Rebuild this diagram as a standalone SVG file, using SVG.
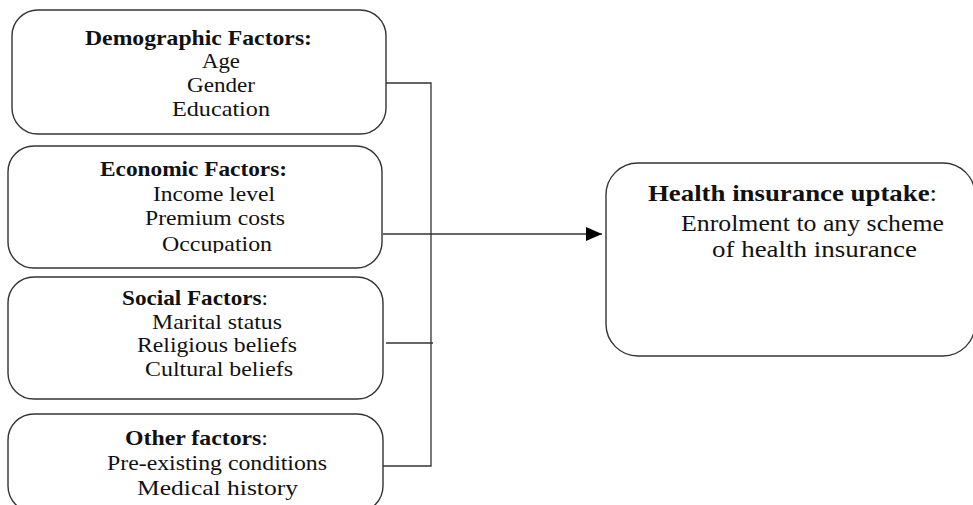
<svg xmlns="http://www.w3.org/2000/svg" width="973" height="505" viewBox="0 0 973 505">
<style>
.box{fill:#fff;stroke:#333;stroke-width:1.4}
.t{font-family:"Liberation Serif","Times New Roman",serif;font-size:22px;fill:#111}
.r{font-size:23px}
.b{font-weight:bold}
.ln{fill:none;stroke:#333;stroke-width:1.3}
</style>
<defs>
<marker id="arr" markerWidth="16" markerHeight="14" refX="16" refY="7" orient="auto" markerUnits="userSpaceOnUse">
<path d="M0,0 L16,7 L0,14 Z" fill="#000"/>
</marker>
<clipPath id="clipEco"><rect x="0" y="140" width="400" height="113"/></clipPath>
</defs>
<rect width="973" height="505" fill="#fff"/>
<g id="connectors">
<path class="ln" d="M386,83 H431 V466 H383"/>
<path class="ln" d="M383,234 H602" marker-end="url(#arr)"/>
<path class="ln" d="M386,343 H433"/>
</g>
<g id="demographic">
<rect class="box" x="12" y="10" width="374" height="124" rx="26"/>
<text class="t b" x="85" y="45" textLength="227" lengthAdjust="spacingAndGlyphs">Demographic Factors:</text>
<text class="t" x="202" y="68" textLength="38" lengthAdjust="spacingAndGlyphs">Age</text>
<text class="t" x="187" y="92" textLength="68" lengthAdjust="spacingAndGlyphs">Gender</text>
<text class="t" x="172" y="116" textLength="98" lengthAdjust="spacingAndGlyphs">Education</text>
</g>
<g id="economic">
<rect class="box" x="8" y="146" width="374" height="122" rx="26"/>
<text class="t b" x="100" y="176" textLength="187" lengthAdjust="spacingAndGlyphs">Economic Factors:</text>
<text class="t" x="153" y="201" textLength="122" lengthAdjust="spacingAndGlyphs">Income level</text>
<text class="t" x="145" y="225" textLength="140" lengthAdjust="spacingAndGlyphs">Premium costs</text>
<g clip-path="url(#clipEco)">
<text class="t" x="162" y="251" textLength="110" lengthAdjust="spacingAndGlyphs">Occupation</text>
</g>
</g>
<g id="social">
<rect class="box" x="8" y="277" width="375" height="122" rx="26"/>
<text class="t" x="122" y="305" textLength="146" lengthAdjust="spacingAndGlyphs"><tspan class="b">Social Factors</tspan>:</text>
<text class="t" x="152" y="329" textLength="130" lengthAdjust="spacingAndGlyphs">Marital status</text>
<text class="t" x="137" y="352" textLength="160" lengthAdjust="spacingAndGlyphs">Religious beliefs</text>
<text class="t" x="145" y="376" textLength="148" lengthAdjust="spacingAndGlyphs">Cultural beliefs</text>
</g>
<g id="other">
<rect class="box" x="8" y="414" width="375" height="98" rx="26"/>
<text class="t" x="125" y="445" textLength="143" lengthAdjust="spacingAndGlyphs"><tspan class="b">Other factors</tspan>:</text>
<text class="t" x="107" y="470" textLength="220" lengthAdjust="spacingAndGlyphs">Pre-existing conditions</text>
<text class="t" x="137" y="495" textLength="161" lengthAdjust="spacingAndGlyphs">Medical history</text>
</g>
<g id="uptake">
<rect class="box" x="606" y="163" width="369" height="193" rx="32"/>
<text class="t r" x="648" y="201" textLength="289" lengthAdjust="spacingAndGlyphs"><tspan class="b">Health insurance uptake</tspan>:</text>
<text class="t r" x="681" y="231" textLength="263" lengthAdjust="spacingAndGlyphs">Enrolment to any scheme</text>
<text class="t r" x="712" y="257" textLength="205" lengthAdjust="spacingAndGlyphs">of health insurance</text>
</g>
</svg>
